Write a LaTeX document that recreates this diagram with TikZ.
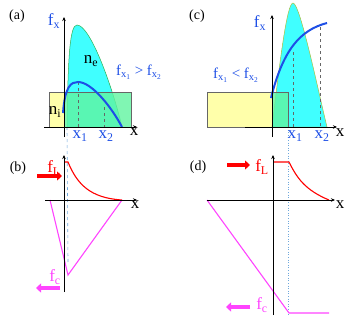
\documentclass[tikz,border=0pt]{standalone}
\usepackage{fontspec}
\setmainfont{Liberation Serif}
\usepackage{tikz}
\usetikzlibrary{arrows.meta,calc}
\definecolor{Aqua}{HTML}{40FFFF}
\definecolor{AquaEdge}{HTML}{30B050}
\definecolor{AquaEdgeC}{HTML}{A8C040}
\definecolor{Lemon}{HTML}{FFFFAA}
\definecolor{Mint}{HTML}{60F4A0}
\definecolor{Curve}{HTML}{1E4FE6}
\definecolor{Load}{HTML}{FF0000}
\definecolor{Pink}{HTML}{FF44FF}
\definecolor{Guide}{HTML}{6FA8DC}
\newcommand{\sub}[2]{#1\textsubscript{#2}}
\tikzset{
    % axes and curves
    axis/.style={
        line width=0.9pt,
        -{Stealth[length=4pt,width=3.5pt]},
        black
    },
    bluecurve/.style={
        line width=2pt,
        color=Curve
    },
    redcurve/.style={
        line width=1.1pt,
        color=Load
    },
    pinkcurve/.style={
        line width=1.1pt,
        color=Pink
    },
    marker/.style={
        dashed,
        line width=0.6pt,
        color=black!60
    },
    guide/.style={
        dashed,
        line width=0.6pt,
        color=Guide
    },
    fatarrow/.style={
        line width=3.5pt,
        -{Triangle[length=5pt,width=9pt]}
    },
    lbl/.style={
        font=\fontsize{17}{19}\selectfont,
        inner sep=0pt
    },
    cmplbl/.style={
        font=\fontsize{15}{17}\selectfont,
        inner sep=0pt
    },
    panel/.style={
        font=\fontsize{14}{16}\selectfont,
        inner sep=0pt
    }
}
\begin{document}
\begin{tikzpicture}[x=1pt,y=-1pt]
    \useasboundingbox (0,0) rectangle (354,319);

    % (a)
    \node[panel] (pa) at (17,16) {(a)};
    \fill[Lemon] (49,92) rectangle (64,127);
    \draw[fill=Aqua, draw=AquaEdge, line width=0.5pt]
        (67,127) .. controls (68,55) and (70,25) .. (77,25)
        .. controls (90,25) and (112,85) .. (122,127) -- cycle;
    \fill[Mint, opacity=0.8] (64,92) rectangle (131,127);
    \draw[black!60, line width=0.5pt] (49,92) rectangle (131,127);
    \draw[guide] (67,127) -- (68,262);
    \draw[marker] (78,82) -- (78,127);
    \draw[marker] (104,107) -- (104,127);
    \draw[bluecurve] (63,113) .. controls (65,86) and (71,82) .. (78,82)
        .. controls (92,82) and (112,108) .. (122,127);
    \draw[axis] (44,127) -- (137,127);
    \draw[axis] (64,137) -- (64,17);
    \node[lbl, text=Curve] (fxa) at (54,21) {\sub{f}{x}};
    \node[lbl] (nea) at (91,61) {\sub{n}{e}};
    \node[lbl] (nia) at (55,112) {\sub{n}{i}};
    \node[cmplbl, text=Curve] (cmpa) at (139,72) {\sub{f}{\sub{x}{1}} > \sub{f}{\sub{x}{2}}};
    \node[lbl, text=Curve] (x1a) at (80,136) {\sub{x}{1}};
    \node[lbl, text=Curve] (x2a) at (106,136) {\sub{x}{2}};
    \node[lbl] (xa) at (134,132) {x};

    % (b)
    \node[panel] (pb) at (18,168) {(b)};
    \draw[redcurve] (64,162) -- (68,162)
        .. controls (77,184) and (90,198) .. (122,200);
    \draw[pinkcurve] (50,200) -- (68,275) -- (122,200);
    \draw[axis] (45,200) -- (137,200);
    \draw[axis] (64,292) -- (64,155);
    \node[lbl, text=Load] (fLb) at (54,168) {\sub{f}{L}};
    \draw[fatarrow, Load] (37,176) -- (62,176);
    \node[lbl, text=Pink] (fcb) at (55,277) {\sub{f}{c}};
    \draw[fatarrow, Pink] (60,288) -- (36,288);
    \node[lbl] (xb) at (135,205) {x};

    % (c)
    \node[panel] (pc) at (197,16) {(c)};
    \fill[Lemon] (207,92) rectangle (272,127);
    \draw[fill=Aqua, draw=AquaEdgeC, line width=0.5pt]
        (272,127) .. controls (280,60) and (287,3) .. (293,3)
        .. controls (300,3) and (318,90) .. (327,127) -- cycle;
    \fill[Mint, opacity=0.8] (272,92) rectangle (288,127);
    \draw[black!60, line width=0.5pt] (207,92) rectangle (288,127);
    \draw[guide, dotted] (288,127) -- (288,315);
    \draw[marker] (293,52) -- (293,127);
    \draw[marker] (320,27) -- (320,127);
    \draw[bluecurve] (271,98) .. controls (283,50) and (300,30) .. (327,23);
    \draw[axis] (245,127) -- (337,127);
    \draw[axis] (272,137) -- (272,15);
    \node[lbl, text=Curve] (fxc) at (260,23) {\sub{f}{x}};
    \node[cmplbl, text=Curve] (cmpc) at (236,75) {\sub{f}{\sub{x}{1}} < \sub{f}{\sub{x}{2}}};
    \node[lbl, text=Curve] (x1c) at (295,136) {\sub{x}{1}};
    \node[lbl, text=Curve] (x2c) at (322,136) {\sub{x}{2}};
    \node[lbl] (xc) at (340,133) {x};

    % (d)
    \node[panel] (pd) at (198,167) {(d)};
    \draw[redcurve] (273,162) -- (289,162)
        .. controls (297,178) and (305,190) .. (329,200);
    \draw[pinkcurve] (207,200) -- (289,313) -- (329,313);
    \draw[axis] (207,200) -- (335,200);
    \draw[axis] (273,315) -- (273,155);
    \draw[fatarrow, Load] (227,165) -- (250,165);
    \node[lbl, text=Load] (fLd) at (262,167) {\sub{f}{L}};
    \draw[fatarrow, Pink] (250,307) -- (226,307);
    \node[lbl, text=Pink] (fcd) at (262,305) {\sub{f}{c}};
    \node[lbl] (xd) at (340,205) {x};
\end{tikzpicture}
\end{document}
